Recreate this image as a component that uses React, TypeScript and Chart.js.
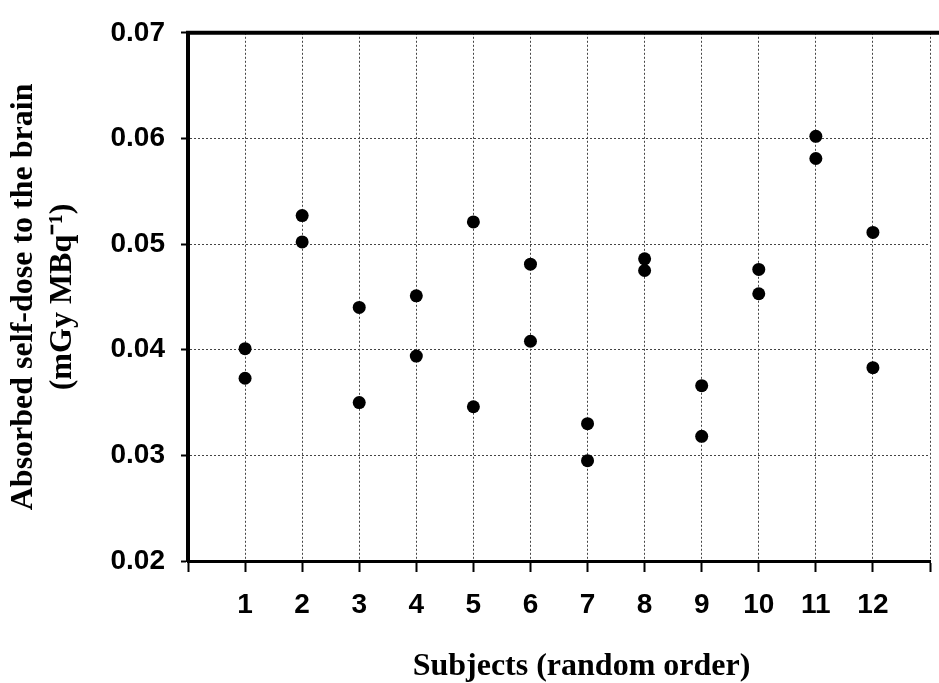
import React, { useEffect, useRef } from 'react';
import { Chart, registerables } from 'chart.js';

Chart.register(...registerables);

const subjects = [1, 2, 3, 4, 5, 6, 7, 8, 9, 10, 11, 12];
const doseHigh = [0.0401, 0.0527, 0.044, 0.0451, 0.0521, 0.0481, 0.033, 0.0486, 0.0366, 0.0476, 0.0602, 0.0511];
const doseLow = [0.0373, 0.0502, 0.035, 0.0394, 0.0346, 0.0408, 0.0295, 0.0475, 0.0318, 0.0453, 0.0581, 0.0383];
const yTicks = [0.02, 0.03, 0.04, 0.05, 0.06, 0.07];
const xTicks = [0, 1, 2, 3, 4, 5, 6, 7, 8, 9, 10, 11, 12, 13];
const xTitle = 'Subjects (random order)';
const yTitle = ['Absorbed self-dose to the brain', '(mGy MBq\u207B\u00B9)'];

export default function App() {
  const ref = useRef<HTMLCanvasElement>(null);

  useEffect(() => {
    const canvas = ref.current;
    if (!canvas) return;
    const serif = "'Liberation Serif', 'Times New Roman', serif";
    const sans = "'Liberation Sans', Arial, sans-serif";

    const framePlugin = {
      id: 'frame',
      afterDraw(chart: any) {
        const { ctx, chartArea } = chart;
        ctx.save();
        ctx.strokeStyle = '#000';
        ctx.lineWidth = 4;
        ctx.beginPath();
        ctx.moveTo(chartArea.left - 2, chartArea.top);
        ctx.lineTo(chart.width, chartArea.top);
        ctx.stroke();
        ctx.font = `bold 32px ${serif}`;
        ctx.fillStyle = '#000';
        ctx.textAlign = 'center';
        ctx.textBaseline = 'alphabetic';
        ctx.fillText(xTitle, chartArea.left + 393.5, chartArea.bottom + 114);
        ctx.restore();
      },
    };

    const pointStyle = {
      backgroundColor: '#000',
      borderColor: '#000',
      borderWidth: 0,
      pointRadius: 6.5,
      pointHoverRadius: 6.5,
      showLine: false,
    };

    const chart = new Chart(canvas, {
      type: 'scatter',
      data: {
        datasets: [
          { label: 'high', data: subjects.map((s, i) => ({ x: s, y: doseHigh[i] })), ...pointStyle },
          { label: 'low', data: subjects.map((s, i) => ({ x: s, y: doseLow[i] })), ...pointStyle },
        ],
      },
      options: {
        animation: false,
        responsive: false,
        devicePixelRatio: 1,
        layout: { padding: { left: 0, top: 21, right: 1, bottom: 0 } },
        plugins: { legend: { display: false }, tooltip: { enabled: false }, title: { display: false } },
        scales: {
          x: {
            type: 'linear',
            min: 0,
            max: 13,
            afterBuildTicks: (s: any) => {
              s.ticks = xTicks.map((v) => ({ value: v }));
            },
            afterFit: (s: any) => {
              s.height = 122;
            },
            ticks: {
              autoSkip: false,
              maxRotation: 0,
              padding: 16,
              color: '#000',
              font: { family: sans, size: 28, weight: 'bold', lineHeight: 1.2 },
              callback: (v: any) => (subjects.includes(Number(v)) ? String(v) : ''),
            },
            grid: {
              color: '#444',
              lineWidth: 1,
              drawTicks: true,
              tickLength: 11,
              tickColor: '#000',
              tickWidth: 2,
              tickBorderDash: [],
            },
            border: { display: true, color: '#000', width: 3, dash: [2, 2] },
          },
          y: {
            type: 'linear',
            min: 0.02,
            max: 0.07,
            afterBuildTicks: (s: any) => {
              s.ticks = yTicks.map((v) => ({ value: v }));
            },
            afterFit: (s: any) => {
              s.width = 188;
            },
            ticks: {
              padding: 16,
              color: '#000',
              font: { family: sans, size: 28, weight: 'bold', lineHeight: 1.2 },
              callback: (v: any) => Number(v).toFixed(2),
            },
            grid: {
              color: '#444',
              lineWidth: 1,
              drawTicks: true,
              tickLength: 7,
              tickColor: '#000',
              tickWidth: 2,
              tickBorderDash: [],
            },
            border: { display: true, color: '#000', width: 4, dash: [2, 2] },
            title: {
              display: true,
              text: yTitle,
              color: '#000',
              padding: { top: 5, bottom: 0 },
              font: { family: serif, size: 32, weight: 'bold', lineHeight: 1.2 },
            },
          },
        },
      },
      plugins: [framePlugin],
    } as any);

    return () => chart.destroy();
  }, []);

  return (
    <div style={{ position: 'absolute', left: 0, top: 0, width: 939, height: 683, overflow: 'hidden', background: '#fff' }}>
      <canvas ref={ref} width={946} height={683} style={{ display: 'block', width: 946, height: 683 }} />
    </div>
  );
}
